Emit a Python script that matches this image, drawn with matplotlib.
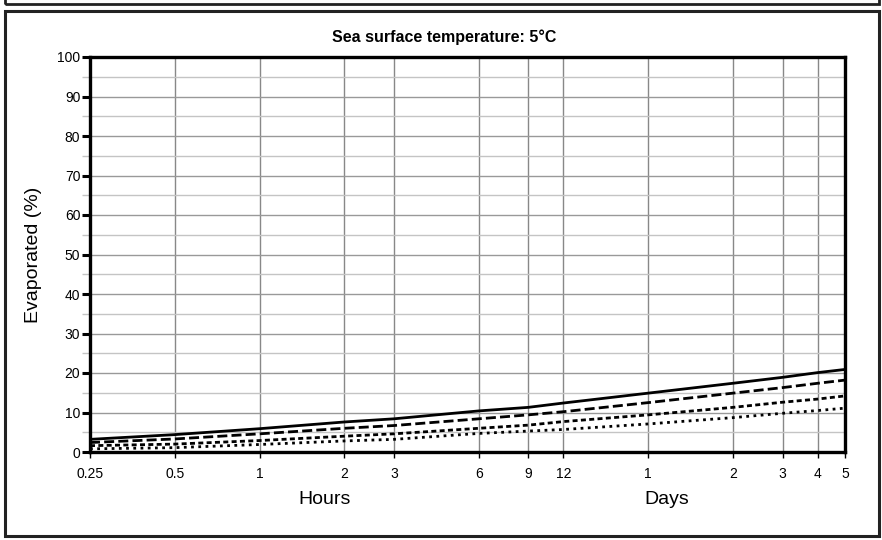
import matplotlib
matplotlib.use("Agg")
import matplotlib.pyplot as plt
from matplotlib.patches import Rectangle
from matplotlib.ticker import FixedLocator, NullFormatter

plt.rcParams['font.family'] = ['Liberation Sans', 'DejaVu Sans']

# Data
time_hours = [0.25, 0.5, 1, 2, 3, 6, 9, 12, 24, 48, 72, 96, 120]
tick_labels = ["0.25", "0.5", "1", "2", "3", "6", "9", "12", "1", "2", "3", "4", "5"]
series_a = [3.2, 4.4, 5.9, 7.6, 8.4, 10.4, 11.3, 12.4, 14.9, 17.4, 18.9, 20.1, 20.9]   # solid
series_b = [2.4, 3.3, 4.6, 6.0, 6.7, 8.4, 9.4, 10.2, 12.5, 14.9, 16.3, 17.4, 18.2]     # long dash
series_c = [1.6, 2.0, 2.9, 4.0, 4.6, 6.0, 6.8, 7.7, 9.4, 11.3, 12.6, 13.4, 14.2]       # short dash
series_d = [0.8, 1.1, 1.9, 2.8, 3.2, 4.7, 5.3, 5.7, 7.1, 8.7, 9.8, 10.5, 11.1]         # dotted
y_major = list(range(0, 101, 10))
y_minor = list(range(5, 100, 10))

W, H = 882, 540
fig = plt.figure(figsize=(W / 100, H / 100), dpi=100)

def fx(px):
    return px / W

def fy(py):
    return 1 - py / H

# Frames
fig.add_artist(Rectangle((fx(5), fy(3.5)), fx(874), fy(-30) - fy(3.5),
                         transform=fig.transFigure, fill=False, lw=2, ec='#222222'))
fig.add_artist(Rectangle((fx(5), fy(536)), fx(874), fy(11) - fy(536),
                         transform=fig.transFigure, fill=False, lw=2.2, ec='#222222'))

ax = fig.add_axes([fx(90), fy(452), fx(845) - fx(90), fy(57) - fy(452)])
ax.set_xscale('log')
ax.set_xlim(0.25, 120)
ax.set_ylim(0, 100)

ax.plot(time_hours, series_a, color='black', lw=2, ls='-', solid_capstyle='butt', zorder=5)
ax.plot(time_hours, series_b, color='black', lw=2, ls=(0, (3.6, 1.5)), dash_capstyle='butt', zorder=5)
ax.plot(time_hours, series_c, color='black', lw=2, ls=(0, (1.8, 1.2)), dash_capstyle='butt', zorder=5)
ax.plot(time_hours, series_d, color='black', lw=2, ls=(0, (1, 1.6)), dash_capstyle='butt', zorder=5)

ax.xaxis.set_major_locator(FixedLocator(time_hours))
ax.xaxis.set_minor_locator(FixedLocator([]))
ax.set_xticklabels(tick_labels)
ax.yaxis.set_major_locator(FixedLocator(y_major))
ax.yaxis.set_minor_locator(FixedLocator(y_minor))
ax.yaxis.set_minor_formatter(NullFormatter())

ax.grid(True, axis='x', which='major', color='#888888', lw=1)
ax.grid(True, axis='y', which='major', color='#999999', lw=1)
ax.grid(True, axis='y', which='minor', color='#c4c4c4', lw=1)
ax.set_axisbelow(True)

ax.tick_params(axis='y', which='major', direction='out', length=6, width=2.2, color='black',
               labelsize=10, pad=1)
ax.tick_params(axis='y', which='minor', direction='out', length=6, width=1, color='#c4c4c4')
ax.tick_params(axis='x', which='major', direction='out', length=4, width=1, color='black',
               labelsize=10, pad=7)

for s in ax.spines.values():
    s.set_linewidth(2.4)
    s.set_color('black')

fig.text(fx(444), fy(37), "Sea surface temperature: 5°C", fontsize=11.5, fontweight='bold',
         ha='center', va='center')
fig.text(fx(33), fy(255), "Evaporated (%)", rotation=90, fontsize=14, ha='center', va='center')
fig.text(fx(325), fy(500), "Hours", fontsize=14, ha='center', va='center')
fig.text(fx(667), fy(500), "Days", fontsize=14, ha='center', va='center')

fig.savefig("out.png", dpi=100)
